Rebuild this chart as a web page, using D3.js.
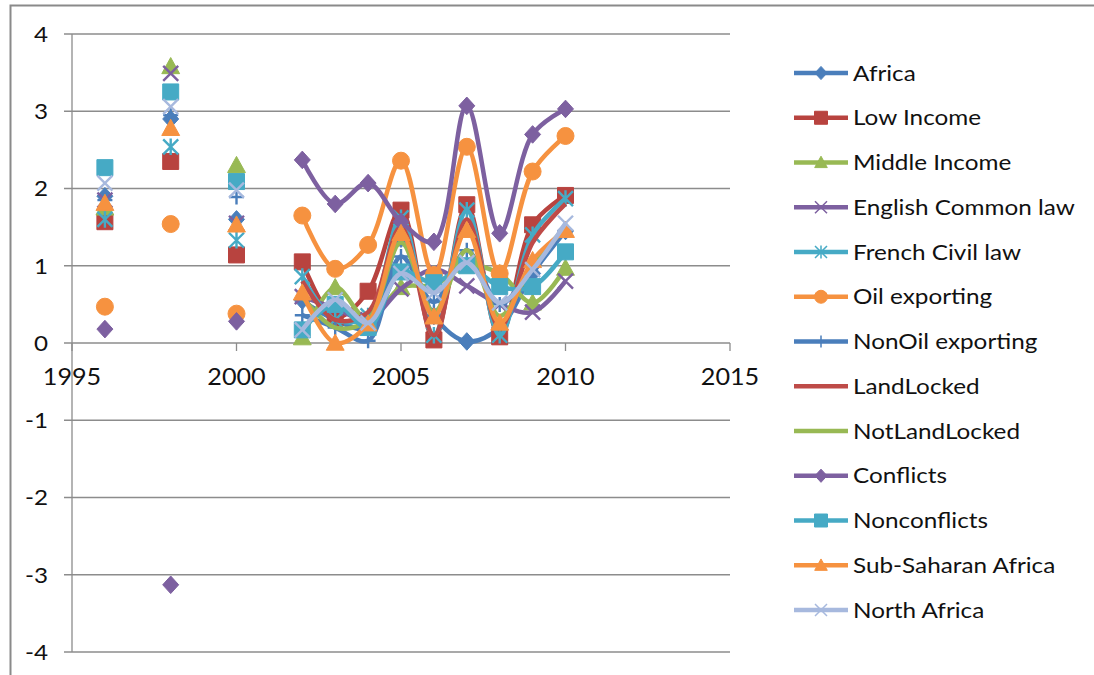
<!DOCTYPE html>
<html><head><meta charset="utf-8">
<script src="https://cdn.jsdelivr.net/npm/d3@7"></script>
<style>
html,body{margin:0;padding:0;background:#fff;}
svg{display:block;}
text{font-family:Lato,"Open Sans",sans-serif;fill:#111;}
</style></head>
<body><svg id="c" width="1094" height="675"></svg>
<script>
// ---- data ----
const years = [1996,1997,1998,1999,2000,2001,2002,2003,2004,2005,2006,2007,2008,2009,2010];
const seriesNames = ["Africa","Low Income","Middle Income","English Common law","French Civil law","Oil exporting","NonOil exporting","LandLocked","NotLandLocked","Conflicts","Nonconflicts","Sub-Saharan Africa","North Africa"];
const africa        = [1.90,null,2.90,null,1.60,null,0.55,0.30,0.20,1.35,0.35,0.02,0.20,0.90,1.45];
const lowIncome     = [1.57,null,2.35,null,1.14,null,1.05,0.33,0.67,1.72,0.04,1.79,0.08,1.53,1.91];
const middleIncome  = [1.75,null,3.58,null,2.30,null,0.07,0.72,0.30,0.72,0.75,1.00,0.90,0.52,0.97];
const englishLaw    = [1.85,null,3.49,null,1.55,null,0.60,0.45,0.30,0.70,0.95,0.74,0.50,0.40,0.80];
const frenchLaw     = [1.60,null,2.54,null,1.33,null,0.86,0.30,0.35,1.62,0.10,1.72,0.10,1.40,1.87];
const oilExporting  = [0.47,null,1.54,null,0.38,null,1.65,0.96,1.27,2.36,0.88,2.54,0.90,2.22,2.68];
const nonOil        = [1.85,null,2.95,null,1.89,null,0.36,0.20,0.03,1.12,0.53,1.20,0.50,1.00,1.45];
const landLocked    = [null,null,null,null,null,null,0.80,0.30,0.40,1.50,0.10,1.60,0.20,1.30,1.80];
const notLandLocked = [null,null,null,null,null,null,0.60,0.20,0.30,1.30,0.40,1.20,0.35,1.00,1.50];
const conflicts     = [0.18,null,-3.13,null,0.28,null,2.37,1.80,2.07,1.57,1.31,3.07,1.42,2.70,3.03];
const nonconflicts  = [2.27,null,3.25,null,2.09,null,0.17,0.50,0.20,0.92,0.78,1.00,0.73,0.73,1.18];
const subSaharan    = [1.81,null,2.78,null,1.53,null,0.65,0.00,0.25,1.42,0.34,1.46,0.26,1.07,1.46];
const northAfrica   = [2.07,null,3.06,null,1.98,null,0.17,0.56,0.26,0.90,0.65,1.04,0.52,0.95,1.55];
const seriesValues = [africa,lowIncome,middleIncome,englishLaw,frenchLaw,oilExporting,nonOil,landLocked,notLandLocked,conflicts,nonconflicts,subSaharan,northAfrica];
const xTicks = [1995,2000,2005,2010,2015];
const yTicks = [-4,-3,-2,-1,0,1,2,3,4];

// ---- style ----
const colors  = ["#4A7EBB","#B8433F","#98B954","#7D60A0","#46AAC5","#F69240","#4A7EBB","#BE4B48","#98B954","#7D60A0","#46AAC5","#F69240","#A7B9DE"];
const markers = ["diamond","square","triangle","x","star","circle","plus","none","none","diamond","square","triangle","x"];

const svg = d3.select("#c");
// outer frame
svg.append("rect").attr("x",10.5).attr("y",5.5).attr("width",1100).attr("height",700)
  .attr("fill","none").attr("stroke","#8a8a8a").attr("stroke-width",2);

const x = d3.scaleLinear().domain([1995,2015]).range([72,730]);
const y = d3.scaleLinear().domain([-4,4]).range([652,34]);

// gridlines
svg.append("g").selectAll("line").data(yTicks).join("line")
  .attr("x1",64).attr("x2",730).attr("y1",d=>y(d)).attr("y2",d=>y(d))
  .attr("stroke","#8c8c8c").attr("stroke-width",1.3);
// y axis line
svg.append("line").attr("x1",x(1995)).attr("x2",x(1995)).attr("y1",y(4)).attr("y2",y(-4))
  .attr("stroke","#8c8c8c").attr("stroke-width",1.3);
// y labels (slightly stretched horizontally like the reference)
svg.append("g").selectAll("text").data(yTicks).join("text")
  .attr("transform",d=>`translate(48,${y(d)}) scale(1.1,1)`).attr("dy","0.36em").attr("text-anchor","end")
  .style("font-size","22px").text(d=>d);
// x ticks
svg.append("g").selectAll("line").data(xTicks).join("line")
  .attr("x1",d=>x(d)).attr("x2",d=>x(d)).attr("y1",y(0)).attr("y2",y(0)+8)
  .attr("stroke","#8c8c8c").attr("stroke-width",1.3);
svg.append("g").selectAll("text").data(xTicks).join("text")
  .attr("transform",d=>`translate(${x(d)},${y(0)+42}) scale(1.12,1)`).attr("text-anchor","middle")
  .style("font-size","22.5px").text(d=>d);

// marker path generator
function markerPath(type, s){
  const h = s/2;
  switch(type){
    case "diamond": return `M0,${-h*1.1}L${h},0L0,${h*1.1}L${-h},0Z`;
    case "square": return `M${-h},${-h}H${h}V${h}H${-h}Z`;
    case "triangle": return `M0,${-h*1.05}L${h*1.05},${h*0.85}L${-h*1.05},${h*0.85}Z`;
    case "circle": {const p=d3.path();p.arc(0,0,h,0,2*Math.PI);p.closePath();return p.toString();}
    case "x": return `M${-h},${-h}L${h},${h}M${-h},${h}L${h},${-h}`;
    case "star": return `M${-h},${-h}L${h},${h}M${-h},${h}L${h},${-h}M0,${-h*1.1}V${h*1.1}`;
    case "plus": return `M${-h},0H${h}M0,${-h}V${h}`;
  }
  return "";
}
const strokeMarkers = new Set(["x","star","plus"]);

const line = d3.line().defined(d=>d.v!==null).x(d=>x(d.yr)).y(d=>y(d.v))
  .curve(d3.curveCatmullRom.alpha(0.5));

const plot = svg.append("g");
seriesValues.forEach((vals,i)=>{
  const pts = years.map((yr,j)=>({yr, v: vals[j]}));
  const g = plot.append("g");
  g.append("path").datum(pts).attr("d",line).attr("fill","none")
    .attr("stroke",colors[i]).attr("stroke-width",4.5).attr("stroke-linejoin","round");
  if(markers[i]!=="none"){
    const m = markers[i];
    const sz = m==="circle"?17: m==="square"?16: m==="diamond"?16: m==="triangle"?17:15;
    g.selectAll("path.m").data(pts.filter(d=>d.v!==null)).join("path").attr("class","m")
      .attr("transform",d=>`translate(${x(d.yr)},${y(d.v)})`)
      .attr("d",markerPath(m,sz))
      .attr("fill",strokeMarkers.has(m)?"none":colors[i])
      .attr("stroke",colors[i]).attr("stroke-width",strokeMarkers.has(m)?2.4:1);
  }
});

// legend
const legend = svg.append("g");
seriesNames.forEach((name,i)=>{
  const ly = 73 + i*44.75;
  const g = legend.append("g").attr("transform",`translate(0,${ly})`);
  g.append("line").attr("x1",794).attr("x2",848).attr("y1",0).attr("y2",0)
    .attr("stroke",colors[i]).attr("stroke-width",4.5);
  const m = markers[i];
  if(m!=="none"){
    const sz = m==="circle"?13: m==="square"?13: 12;
    g.append("path").attr("transform","translate(821,0)").attr("d",markerPath(m,sz))
      .attr("fill",strokeMarkers.has(m)?"none":colors[i]).attr("stroke",colors[i])
      .attr("stroke-width",strokeMarkers.has(m)?1.5:1);
  }
  g.append("text").attr("transform","translate(853,0) scale(1.13,1)").attr("dy","0.36em")
    .style("font-size","21.5px").text(name);
});
</script></body></html>
